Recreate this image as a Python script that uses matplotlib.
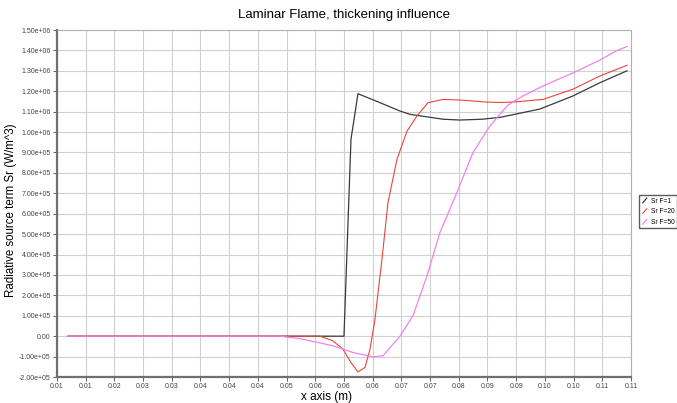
import numpy as np
import matplotlib.pyplot as plt
from matplotlib.lines import Line2D
from matplotlib.legend_handler import HandlerLine2D

plt.rcParams['font.family'] = ['Liberation Sans', 'DejaVu Sans']

# values
x_f1 = [0.00951, 0.0600, 0.06128, 0.06256, 0.06659, 0.07025, 0.07208, 0.07811,
        0.08122, 0.08525, 0.08854, 0.09586, 0.10189, 0.10683, 0.11177]
sr_f1 = [0, 0, 9.65e5, 1.188e6, 1.144e6, 1.103e6, 1.087e6, 1.063e6,
         1.059e6, 1.063e6, 1.072e6, 1.113e6, 1.177e6, 1.242e6, 1.300e6]

x_f20 = [0.00951, 0.05561, 0.05799, 0.05982, 0.06128, 0.06256, 0.06384, 0.06476,
         0.06567, 0.06695, 0.06805, 0.0697, 0.07153, 0.07336, 0.07537, 0.07811,
         0.08122, 0.08616, 0.08854, 0.09092, 0.09641, 0.10189, 0.10683, 0.11177]
sr_f20 = [0, 0, -0.23e5, -0.64e5, -1.29e5, -1.75e5, -1.53e5, -0.64e5,
          0.83e5, 3.77e5, 6.55e5, 8.67e5, 1.005e6, 1.079e6, 1.144e6, 1.160e6,
          1.157e6, 1.147e6, 1.145e6, 1.147e6, 1.160e6, 1.210e6, 1.275e6, 1.327e6]

x_f50 = [0.00951, 0.0483, 0.05195, 0.05799, 0.06165, 0.06531, 0.06713, 0.07025,
         0.07262, 0.07518, 0.07756, 0.08067, 0.0836, 0.08671, 0.08982, 0.09165,
         0.09275, 0.09641, 0.10189, 0.10683, 0.10994, 0.11177]
sr_f50 = [0, 0, -0.12e5, -0.47e5, -0.8e5, -1.01e5, -0.96e5, 0,
          1.0e5, 2.95e5, 5.08e5, 7.04e5, 9.0e5, 1.03e6, 1.128e6, 1.16e6,
          1.177e6, 1.226e6, 1.29e6, 1.353e6, 1.40e6, 1.419e6]

x_ticklabels = ['0.01', '0.01', '0.02', '0.03', '0.03', '0.04', '0.04', '0.04',
                '0.05', '0.06', '0.06', '0.06', '0.07', '0.07', '0.08', '0.09',
                '0.09', '0.10', '0.10', '0.11', '0.11']
x_min, x_max = 0.0075, 0.1125
y_min, y_max = -2e5, 1.5e6


class DiagonalHandler(HandlerLine2D):
    def create_artists(self, legend, orig_handle, xdescent, ydescent,
                       width, height, fontsize, trans):
        line = Line2D([-xdescent + width * 0.2, -xdescent + width * 0.8],
                      [-ydescent, -ydescent + height])
        self.update_prop(line, orig_handle, legend)
        line.set_transform(trans)
        return [line]


fig = plt.figure(figsize=(6.77, 4.03), dpi=100)
ax = fig.add_axes([0.0842, 0.0645, 0.8478, 0.861])

l1, = ax.plot(x_f1, sr_f1, color='#3a3a3a', lw=0.9, label='Sr F=1')
l2, = ax.plot(x_f20, sr_f20, color='#e8453c', lw=0.8, label='Sr F=20')
l3, = ax.plot(x_f50, sr_f50, color='#ee82ee', lw=0.9, label='Sr F=50')

ax.set_xlim(x_min, x_max)
ax.set_ylim(y_min, y_max)
xt = np.linspace(x_min, x_max, len(x_ticklabels))
ax.set_xticks(xt)
ax.set_xticklabels(x_ticklabels)
yt = np.arange(y_min, y_max + 1, 1e5)
ax.set_yticks(yt)
ax.set_yticklabels(['0.00' if v == 0 else '%.2e' % v for v in yt])

ax.grid(True, color='#d0d0d0', lw=0.8)
ax.set_axisbelow(True)
ax.tick_params(labelsize=5, colors='#444444', length=3, width=0.6, pad=1.5)
for s in ['left', 'bottom']:
    ax.spines[s].set_color('#707070')
    ax.spines[s].set_linewidth(1.6)
for s in ['top', 'right']:
    ax.spines[s].set_color('#b0b0b0')
    ax.spines[s].set_linewidth(0.8)

ax.set_title('Laminar Flame, thickening influence', fontsize=9.5, pad=9)
ax.set_xlabel('x axis (m)', fontsize=8.5)
ax.xaxis.set_label_coords(0.469, -0.04)
ax.set_ylabel('Radiative source term Sr (W/m^3)', fontsize=8.3)
ax.yaxis.set_label_coords(-0.07, 0.481)

fig.legend(handles=[l1, l2, l3], loc='upper left', bbox_to_anchor=(0.944, 0.515),
           fontsize=4.8, frameon=True, fancybox=False, edgecolor='#333333',
           handlelength=1.0, handletextpad=0.4, borderpad=0.35, labelspacing=0.55,
           borderaxespad=0, handler_map={Line2D: DiagonalHandler()})

fig.savefig('out.png', dpi=100)
